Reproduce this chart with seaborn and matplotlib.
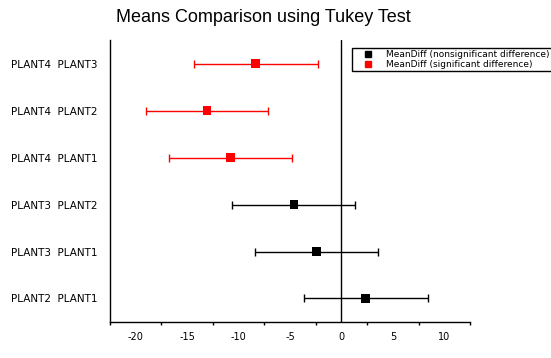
import matplotlib
matplotlib.use('Agg')
import matplotlib.pyplot as plt
from matplotlib.lines import Line2D
import seaborn as sns
import pandas as pd

# Tukey test results
pairs = ['PLANT2  PLANT1', 'PLANT3  PLANT1', 'PLANT3  PLANT2',
         'PLANT4  PLANT1', 'PLANT4  PLANT2', 'PLANT4  PLANT3']
mean_diff = [2.35, -2.4, -4.6, -10.75, -13.07, -8.33]
lower = [-3.65, -8.4, -10.6, -16.8, -19.0, -14.3]
upper = [8.45, 3.55, 1.3, -4.8, -7.1, -2.3]
signif = [False, False, False, True, True, True]

df = pd.DataFrame({'pair': pairs, 'diff': mean_diff, 'lo': lower, 'hi': upper, 'sig': signif})
df['pos'] = range(len(df))

sns.set_style('white')
plt.rcParams['font.family'] = ['Liberation Sans', 'DejaVu Sans']
plt.rcParams['text.color'] = 'black'
plt.rcParams['xtick.color'] = 'black'
plt.rcParams['ytick.color'] = 'black'

fig = plt.figure(figsize=(5.51, 3.58), dpi=100)
ax = fig.add_axes([0.1996, 0.1006, 0.6534, 0.7874])

# error bars
for sig, col in [(False, 'black'), (True, 'red')]:
    sub = df[df['sig'] == sig]
    ax.errorbar(sub['diff'], sub['pos'],
                xerr=[sub['diff'] - sub['lo'], sub['hi'] - sub['diff']],
                fmt='none', ecolor=col, elinewidth=1, capsize=3, capthick=1, zorder=2)

sns.scatterplot(data=df, x='diff', y='pos', hue='sig', palette={False: 'black', True: 'red'},
                marker='s', s=40, edgecolor='none', legend=False, ax=ax, zorder=3)

ax.axvline(0, color='black', lw=1, zorder=1)

tick_font = {'family': 'DejaVu Sans', 'size': 7}
ax.set_xlim(-22.4, 12.5)
ax.set_ylim(-0.5, 5.5)
ax.set_yticks(df['pos'])
ax.set_yticklabels(df['pair'], fontdict={'family': 'DejaVu Sans', 'size': 7.5})
ax.set_xticks([-20, -15, -10, -5, 0, 5, 10])
ax.set_xticks([-22.5, -17.5, -12.5, -7.5, -2.5, 2.5, 7.5, 12.5], minor=True)
ax.set_xticklabels(['-20', '-15', '-10', '-5', '0', '5', '10'], fontdict=tick_font)
ax.tick_params(axis='both', which='major', direction='out', length=4, width=1)
ax.tick_params(axis='x', which='major', pad=3)
ax.tick_params(axis='x', which='minor', direction='out', length=2, width=1, bottom=True)
ax.tick_params(axis='y', pad=5)
ax.set_xlabel('')
ax.set_ylabel('')

for side in ['top', 'right']:
    ax.spines[side].set_visible(False)
for side in ['left', 'bottom']:
    ax.spines[side].set_color('black')
    ax.spines[side].set_linewidth(1)

fig.suptitle('Means Comparison using Tukey Test', x=0.478, y=0.975, fontsize=13)

handles = [Line2D([], [], marker='s', color='black', ls='none', markersize=5),
           Line2D([], [], marker='s', color='red', ls='none', markersize=5)]
leg = fig.legend(handles, ['MeanDiff (nonsignificant difference)', 'MeanDiff (significant difference)'],
                 loc='upper left', bbox_to_anchor=(0.639, 0.865), frameon=True,
                 prop={'family': 'DejaVu Sans', 'size': 6.5},
                 fancybox=False, edgecolor='black', framealpha=1, borderpad=0.2,
                 labelspacing=0.1, handlelength=3.2, handletextpad=0.4, borderaxespad=0)
leg.get_frame().set_linewidth(1)

fig.savefig('out.png', dpi=100)
